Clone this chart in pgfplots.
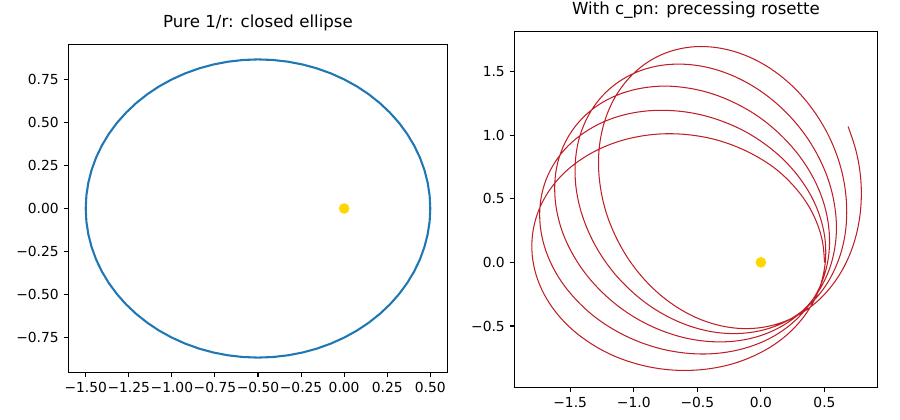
\documentclass[border=0pt]{standalone}
\usepackage{fontspec}
\setmainfont{DejaVu Sans}
\usepackage{pgfplots}
\pgfplotsset{compat=1.18}

\definecolor{mplblue}{HTML}{1F77B4}
\definecolor{sun}{HTML}{FFD700}
\definecolor{orbit}{HTML}{BE1E26}

\pgfplotsset{
  mpl/.style={
    scale only axis,
    anchor=south west,
    axis line style={line width=0.8bp},
    tick align=outside,
    tick pos=left,
    major tick length=3.5bp,
    every tick/.style={black, line width=0.8bp},
    tick label style={font=\fontsize{10}{12}\selectfont},
    title style={font=\fontsize{12}{14}\selectfont, at={(0.5,1)}, anchor=base, yshift=6bp, inner sep=0pt},
  },
}

\begin{document}
\begin{tikzpicture}
\path[use as bounding box] (0,0) rectangle (648bp,302.4bp);

% left: Newtonian orbit
\begin{axis}[mpl,
  at={(49.32bp,34.2bp)},
  width=272.88bp, height=236.16bp,
  xmin=-1.6, xmax=0.6, ymin=-0.9526, ymax=0.9526,
  title={Pure 1/r: closed ellipse},
  xtick={-1.5,-1.25,-1,-0.75,-0.5,-0.25,0,0.25,0.5},
  xticklabels={−1.50,−1.25,−1.00,−0.75,−0.50,−0.25,0.00,0.25,0.50},
  ytick={-0.75,-0.5,-0.25,0,0.25,0.5,0.75},
  yticklabels={−0.75,−0.50,−0.25,0.00,0.25,0.50,0.75},
]
\addplot[mplblue, line width=1.5bp] coordinates {
(0.5000,0.0000) (0.4962,0.0755) (0.4848,0.1503) (0.4659,0.2241) (0.4397,0.2962)
(0.4063,0.3660) (0.3660,0.4330) (0.3192,0.4967) (0.2660,0.5567) (0.2071,0.6124)
(0.1428,0.6634) (0.0736,0.7094) (0.0000,0.7500) (-0.0774,0.7849) (-0.1580,0.8138)
(-0.2412,0.8365) (-0.3264,0.8528) (-0.4128,0.8627) (-0.5000,0.8660) (-0.5872,0.8627)
(-0.6736,0.8528) (-0.7588,0.8365) (-0.8420,0.8138) (-0.9226,0.7849) (-1.0000,0.7500)
(-1.0736,0.7094) (-1.1428,0.6634) (-1.2071,0.6124) (-1.2660,0.5567) (-1.3192,0.4967)
(-1.3660,0.4330) (-1.4063,0.3660) (-1.4397,0.2962) (-1.4659,0.2241) (-1.4848,0.1503)
(-1.4962,0.0755) (-1.5000,0.0000) (-1.4962,-0.0755) (-1.4848,-0.1503) (-1.4659,-0.2241)
(-1.4397,-0.2962) (-1.4063,-0.3660) (-1.3660,-0.4330) (-1.3192,-0.4967) (-1.2660,-0.5567)
(-1.2071,-0.6124) (-1.1428,-0.6634) (-1.0736,-0.7094) (-1.0000,-0.7500) (-0.9226,-0.7849)
(-0.8420,-0.8138) (-0.7588,-0.8365) (-0.6736,-0.8528) (-0.5872,-0.8627) (-0.5000,-0.8660)
(-0.4128,-0.8627) (-0.3264,-0.8528) (-0.2412,-0.8365) (-0.1580,-0.8138) (-0.0774,-0.7849)
(0.0000,-0.7500) (0.0736,-0.7094) (0.1428,-0.6634) (0.2071,-0.6124) (0.2660,-0.5567)
(0.3192,-0.4967) (0.3660,-0.4330) (0.4063,-0.3660) (0.4397,-0.2962) (0.4659,-0.2241)
(0.4848,-0.1503) (0.4962,-0.0755) (0.5000,0.0000)
};
\addplot[only marks, mark=*, mark size=3.6bp, mark options={draw=sun, fill=sun}] coordinates {(0,0)};
\end{axis}

% right: with post-Newtonian correction
\begin{axis}[mpl,
  at={(370.44bp,23.4bp)},
  width=261.36bp, height=256.32bp,
  xmin=-1.938, xmax=0.917, ymin=-0.983, ymax=1.814,
  title={With c\_pn: precessing rosette},
  xtick={-1.5,-1,-0.5,0,0.5},
  xticklabels={−1.5,−1.0,−0.5,0.0,0.5},
  ytick={-0.5,0,0.5,1,1.5},
  yticklabels={−0.5,0.0,0.5,1.0,1.5},
]
\addplot[orbit, line width=0.75bp, smooth, tension=0.6] coordinates {
(0.500,0.000) (0.485,0.159) (0.439,0.314) (0.363,0.463) (0.258,0.600) (0.128,0.725)
(-0.024,0.827) (-0.195,0.910) (-0.379,0.970) (-0.572,1.003) (-0.768,1.010) (-0.961,0.989)
(-1.144,0.942) (-1.314,0.869) (-1.465,0.773) (-1.592,0.657) (-1.691,0.523) (-1.760,0.376)
(-1.796,0.221) (-1.799,0.061) (-1.768,-0.098) (-1.704,-0.252) (-1.609,-0.396) (-1.486,-0.526)
(-1.338,-0.637) (-1.171,-0.728) (-0.989,-0.794) (-0.798,-0.835) (-0.603,-0.849) (-0.409,-0.836)
(-0.223,-0.797) (-0.050,-0.732) (0.106,-0.645) (0.240,-0.537) (0.349,-0.411) (0.432,-0.272)
(0.485,-0.121) (0.509,0.037) (0.502,0.199) (0.464,0.361) (0.396,0.520) (0.299,0.670)
(0.177,0.808) (0.031,0.930) (-0.133,1.033) (-0.313,1.112) (-0.501,1.166) (-0.693,1.192)
(-0.883,1.191) (-1.065,1.162) (-1.235,1.105) (-1.386,1.022) (-1.515,0.917) (-1.617,0.791)
(-1.690,0.649) (-1.731,0.494) (-1.739,0.332) (-1.714,0.167) (-1.657,0.005) (-1.569,-0.151)
(-1.453,-0.294) (-1.313,-0.423) (-1.152,-0.531) (-0.976,-0.617) (-0.790,-0.678) (-0.599,-0.712)
(-0.410,-0.719) (-0.226,-0.698) (-0.054,-0.651) (0.103,-0.579) (0.240,-0.483) (0.353,-0.368)
(0.442,-0.235) (0.503,-0.087) (0.535,0.072) (0.537,0.238) (0.510,0.409) (0.453,0.578)
(0.367,0.742) (0.255,0.895) (0.120,1.034) (-0.034,1.155) (-0.204,1.252) (-0.384,1.325)
(-0.568,1.369) (-0.753,1.385) (-0.931,1.370) (-1.097,1.327) (-1.248,1.256) (-1.377,1.159)
(-1.483,1.038) (-1.560,0.898) (-1.607,0.743) (-1.622,0.577) (-1.606,0.406) (-1.559,0.233)
(-1.481,0.066) (-1.376,-0.093) (-1.246,-0.237) (-1.097,-0.363) (-0.931,-0.467) (-0.754,-0.546)
(-0.571,-0.599) (-0.388,-0.623) (-0.209,-0.619) (-0.040,-0.587) (0.116,-0.527) (0.254,-0.442)
(0.372,-0.335) (0.466,-0.206) (0.536,-0.060) (0.579,0.101) (0.594,0.273) (0.579,0.451)
(0.536,0.631) (0.464,0.807) (0.367,0.974) (0.246,1.128) (0.105,1.264) (-0.052,1.378)
(-0.220,1.466) (-0.395,1.526) (-0.572,1.555) (-0.744,1.553) (-0.907,1.520) (-1.056,1.457)
(-1.187,1.366) (-1.296,1.249) (-1.379,1.110) (-1.435,0.953) (-1.460,0.782) (-1.456,0.604)
(-1.421,0.422) (-1.357,0.243) (-1.267,0.072) (-1.152,-0.087) (-1.016,-0.228) (-0.864,-0.348)
(-0.699,-0.443) (-0.527,-0.511) (-0.353,-0.550) (-0.181,-0.559) (-0.015,-0.539) (0.139,-0.491)
(0.280,-0.415) (0.403,-0.313) (0.506,-0.188) (0.586,-0.042) (0.642,0.121) (0.671,0.298)
(0.672,0.482) (0.646,0.671) (0.592,0.857) (0.512,1.035) (0.408,1.201) (0.283,1.350)
(0.141,1.476) (-0.014,1.576) (-0.178,1.647) (-0.346,1.687) (-0.512,1.695) (-0.672,1.670)
(-0.822,1.613) (-0.956,1.525) (-1.070,1.410) (-1.162,1.271) (-1.228,1.112) (-1.267,0.938)
(-1.277,0.754) (-1.258,0.564) (-1.212,0.376) (-1.138,0.195) (-1.041,0.025) (-0.922,-0.128)
(-0.786,-0.260) (-0.635,-0.368) (-0.476,-0.448) (-0.311,-0.499) (-0.145,-0.520) (0.016,-0.510)
(0.171,-0.470) (0.315,-0.401) (0.445,-0.305) (0.559,-0.182) (0.652,-0.038) (0.723,0.126)
(0.769,0.305) (0.789,0.494) (0.782,0.688) (0.747,0.881) (0.686,1.067)
};
\addplot[only marks, mark=*, mark size=3.6bp, mark options={draw=sun, fill=sun}] coordinates {(0,0)};
\end{axis}
\end{tikzpicture}
\end{document}
